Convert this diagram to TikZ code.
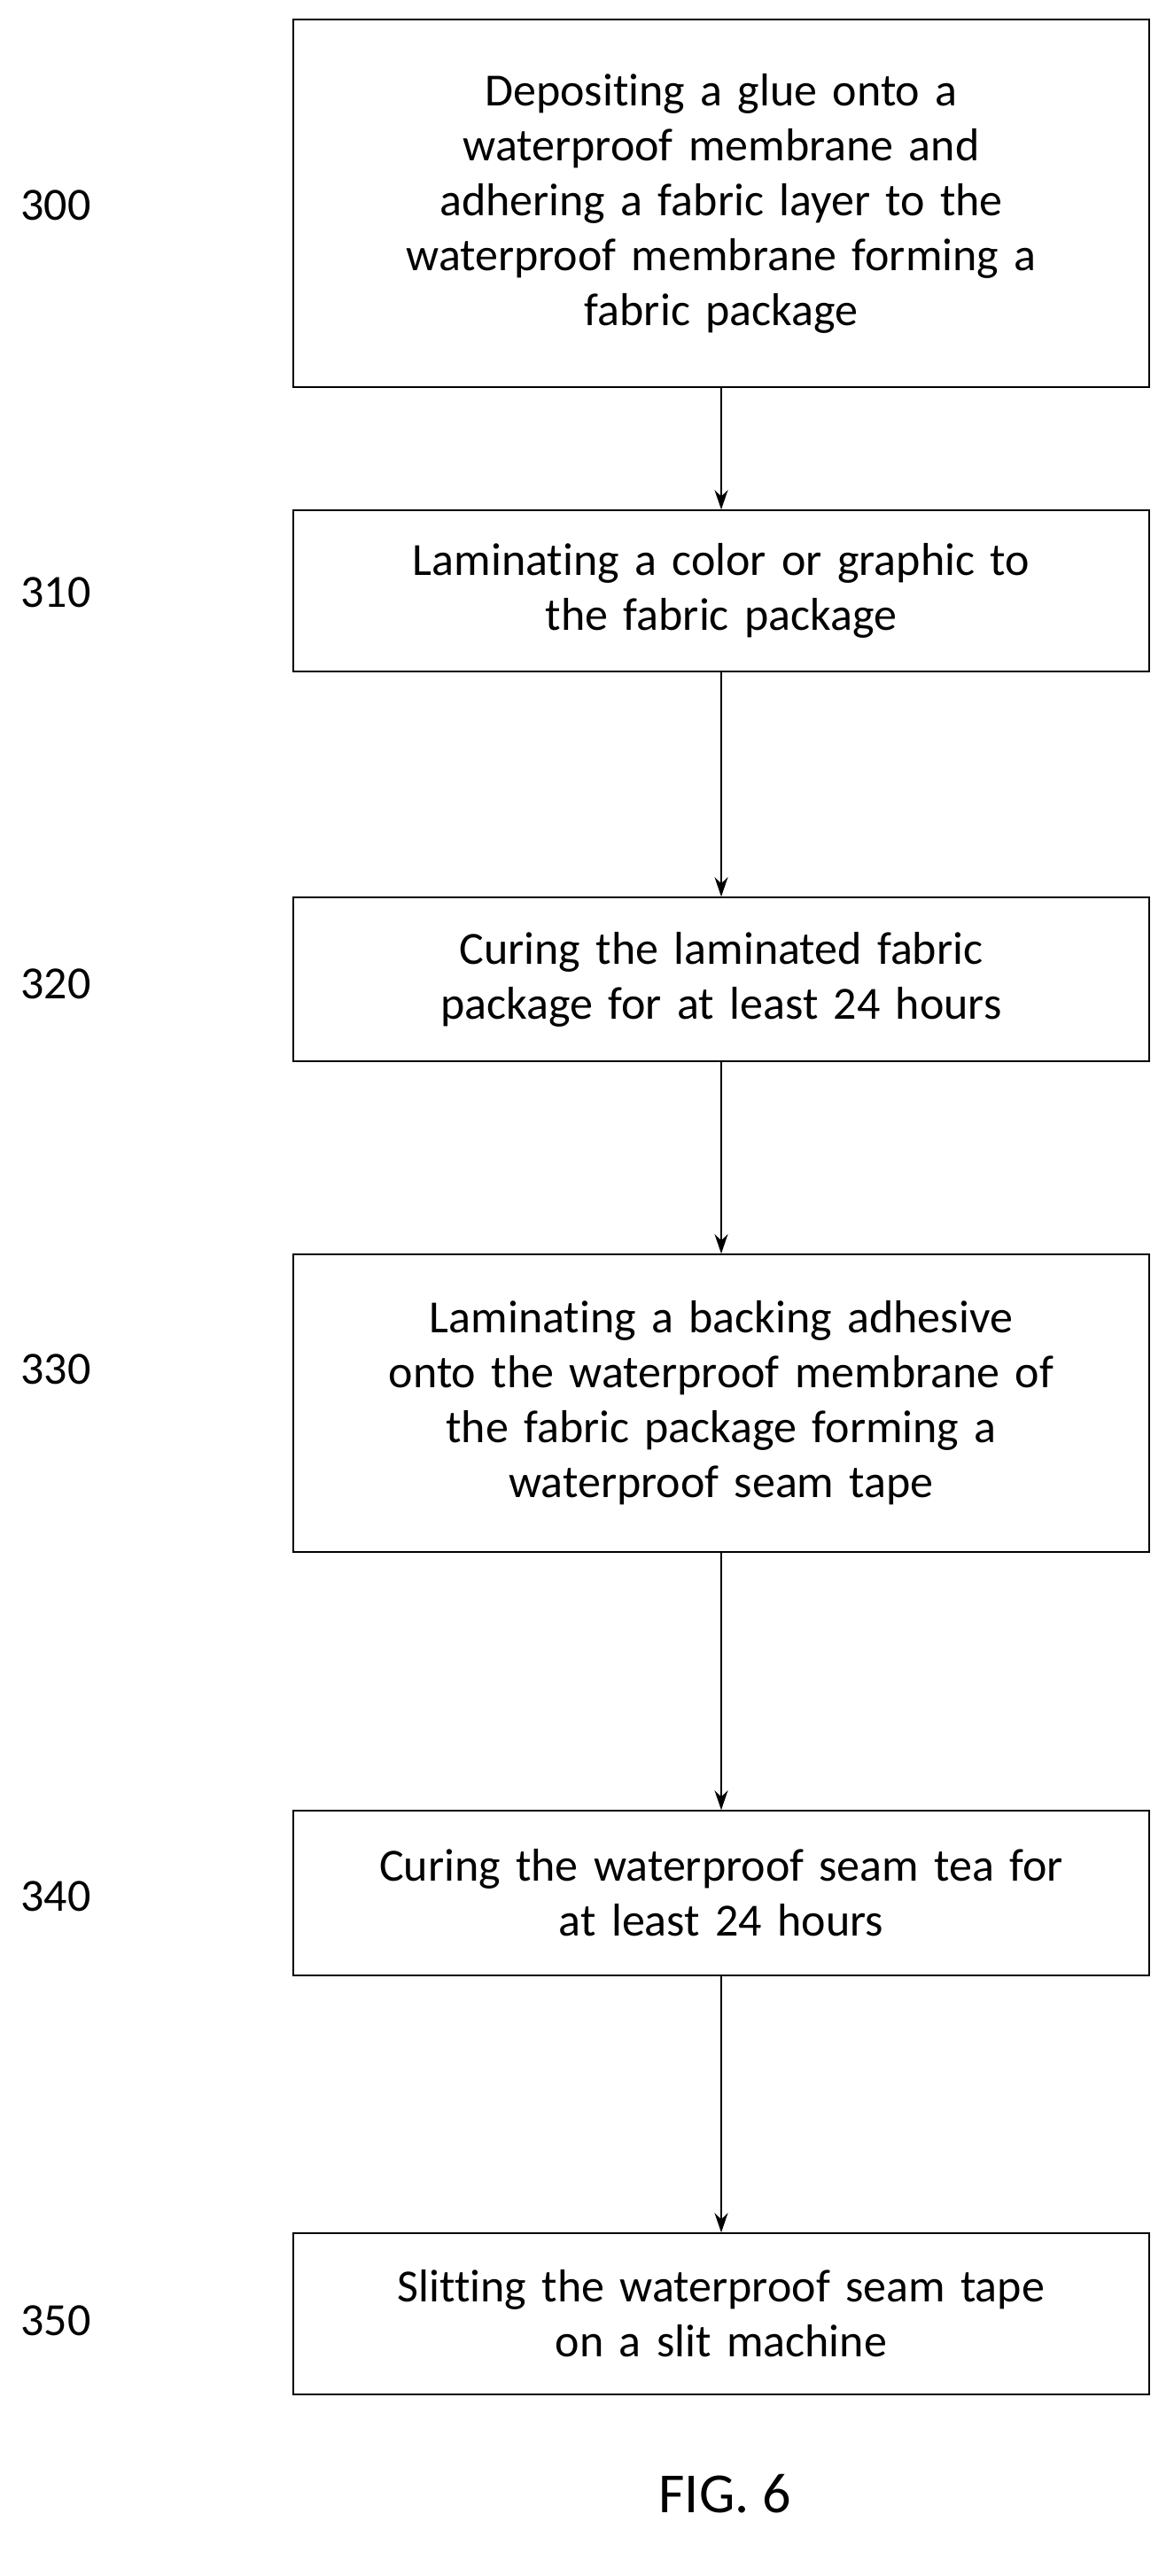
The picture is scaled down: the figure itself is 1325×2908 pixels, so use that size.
\documentclass[tikz,border=0pt]{standalone}
\usepackage{fontspec}
\setmainfont[RawFeature=-liga]{Carlito}
\usetikzlibrary{positioning,arrows.meta}

\begin{document}
\begin{tikzpicture}[
  x=1pt,y=-1pt,
  thick,
  mystep/.style={
    draw,
    line width=1.6pt,
    minimum width=966pt,
    text width=940pt,
    align=center,
    font=\fontsize{52}{62}\selectfont
    },
  mylabel/.style={font=\fontsize{52}{62}\selectfont},
  myarrow/.style={-{Stealth[length=22pt,width=15pt]},line width=1.4pt}
]
\useasboundingbox (0,0) rectangle (1325,2908);

\node[mystep, minimum height=415pt] (step300) at (814,229.5)
  {Depositing a glue onto a\\ waterproof membrane and\\ adhering a fabric layer to the\\ waterproof membrane forming a\\ fabric package};
\node[mystep, minimum height=182pt] (step310) at (814,667)
  {Laminating a color or graphic to\\ the fabric package};
\node[mystep, minimum height=185pt] (step320) at (814,1105.5)
  {Curing the laminated fabric\\ package for at least 24 hours};
\node[mystep, minimum height=336pt] (step330) at (814,1584)
  {Laminating a backing adhesive\\ onto the waterproof membrane of\\ the fabric package forming a\\ waterproof seam tape};
\node[mystep, minimum height=186pt] (step340) at (814,2137)
  {Curing the waterproof seam tea for\\ at least 24 hours};
\node[mystep, minimum height=182pt] (step350) at (814,2612)
  {Slitting the waterproof seam tape\\ on a slit machine};

\foreach \Num/\Ypos in {300/232,310/669,320/1111,330/1546,340/2141,350/2620}
  \node[mylabel] (label\Num) at (63,\Ypos) {\Num};

\draw[myarrow] (step300) -- (step310);
\draw[myarrow] (step310) -- (step320);
\draw[myarrow] (step320) -- (step330);
\draw[myarrow] (step330) -- (step340);
\draw[myarrow] (step340) -- (step350);

\node[font=\fontsize{64}{76}\selectfont] (fig) at (818,2815) {FIG. 6};
\end{tikzpicture}
\end{document}
